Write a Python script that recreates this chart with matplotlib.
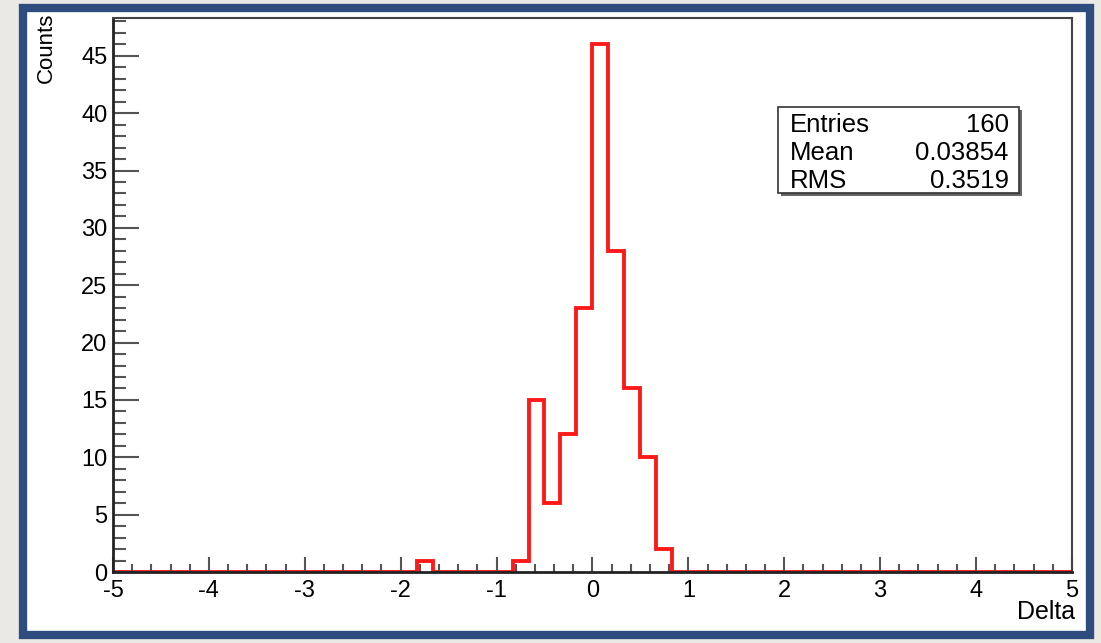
import numpy as np
import matplotlib
matplotlib.use('Agg')
import matplotlib.pyplot as plt
from matplotlib.patches import Rectangle
from matplotlib.ticker import MultipleLocator

plt.rcParams['font.family'] = ['Liberation Sans', 'DejaVu Sans']

# 60 bins from -5 to 5
edges = np.linspace(-5, 5, 61)
bin_left = [-1.8333, -0.8333, -0.6667, -0.5, -0.3333, -0.1667, 0.0, 0.1667, 0.3333, 0.5, 0.6667]
bin_counts = [1, 1, 15, 6, 12, 23, 46, 28, 16, 10, 2]
stat_names = ['Entries', 'Mean', 'RMS']
stat_values = ['160', '0.03854', '0.3519']

counts = np.zeros(60)
for x, c in zip(bin_left, bin_counts):
    counts[int(round((x + 5) * 6))] = c

fig = plt.figure(figsize=(11.01, 6.43), dpi=100)
fig.patch.set_facecolor('#ebe9e5')
# white panel with blue frame
fig.patches.append(Rectangle((0.021, 0.012), 0.969, 0.976, transform=fig.transFigure,
                             facecolor='white', edgecolor='#2e4d7e', linewidth=6, zorder=-5))

ax = fig.add_axes([0.1026, 0.1104, 0.871, 0.8616])
ax.set_facecolor('none')
ax.stairs(counts, edges, color='#ff1a1a', linewidth=2.8)
ax.set_xlim(-5, 5)
ax.set_ylim(0, 48.3)

ax.xaxis.set_major_locator(MultipleLocator(1))
ax.xaxis.set_minor_locator(MultipleLocator(0.2))
ax.yaxis.set_major_locator(MultipleLocator(5))
ax.yaxis.set_minor_locator(MultipleLocator(1))
ax.tick_params(axis='both', which='both', direction='in', labelsize=17, color='#555555', width=1.5)
ax.tick_params(axis='x', which='major', length=10.5, pad=5.5)
ax.tick_params(axis='x', which='minor', length=5.5)
ax.tick_params(axis='y', which='major', length=19, pad=4)
ax.tick_params(axis='y', which='minor', length=9.5)
ax.set_xticks(range(-5, 6))
ax.set_xticklabels([str(v) for v in range(-5, 6)])
for s in ['left', 'bottom']:
    ax.spines[s].set_linewidth(2)
    ax.spines[s].set_color('#222222')
for s in ['top', 'right']:
    ax.spines[s].set_linewidth(1.5)
    ax.spines[s].set_color('#444444')

fig.text(0.0422, 0.981, 'Counts', rotation=90, ha='center', va='top', fontsize=16)
fig.text(0.9764, 0.048, 'Delta', ha='right', va='center', fontsize=18)

# stats box
bx0, bx1, by0, by1 = 0.694, 0.945, 0.684, 0.839
ax.add_patch(Rectangle((bx0 + 0.003, by0 - 0.005), bx1 - bx0, by1 - by0, transform=ax.transAxes,
                       facecolor='#666666', edgecolor='none', zorder=4))
ax.add_patch(Rectangle((bx0, by0), bx1 - bx0, by1 - by0, transform=ax.transAxes,
                       facecolor='white', edgecolor='#333333', linewidth=1.2, zorder=5))
row_y = [0.807, 0.757, 0.706]
for name, val, y in zip(stat_names, stat_values, row_y):
    ax.text(bx0 + 0.012, y, name, transform=ax.transAxes, ha='left', va='center', fontsize=18.5, zorder=6)
    ax.text(bx1 - 0.011, y, val, transform=ax.transAxes, ha='right', va='center', fontsize=18.5, zorder=6)

fig.savefig('out.png', dpi=100, facecolor=fig.get_facecolor())
